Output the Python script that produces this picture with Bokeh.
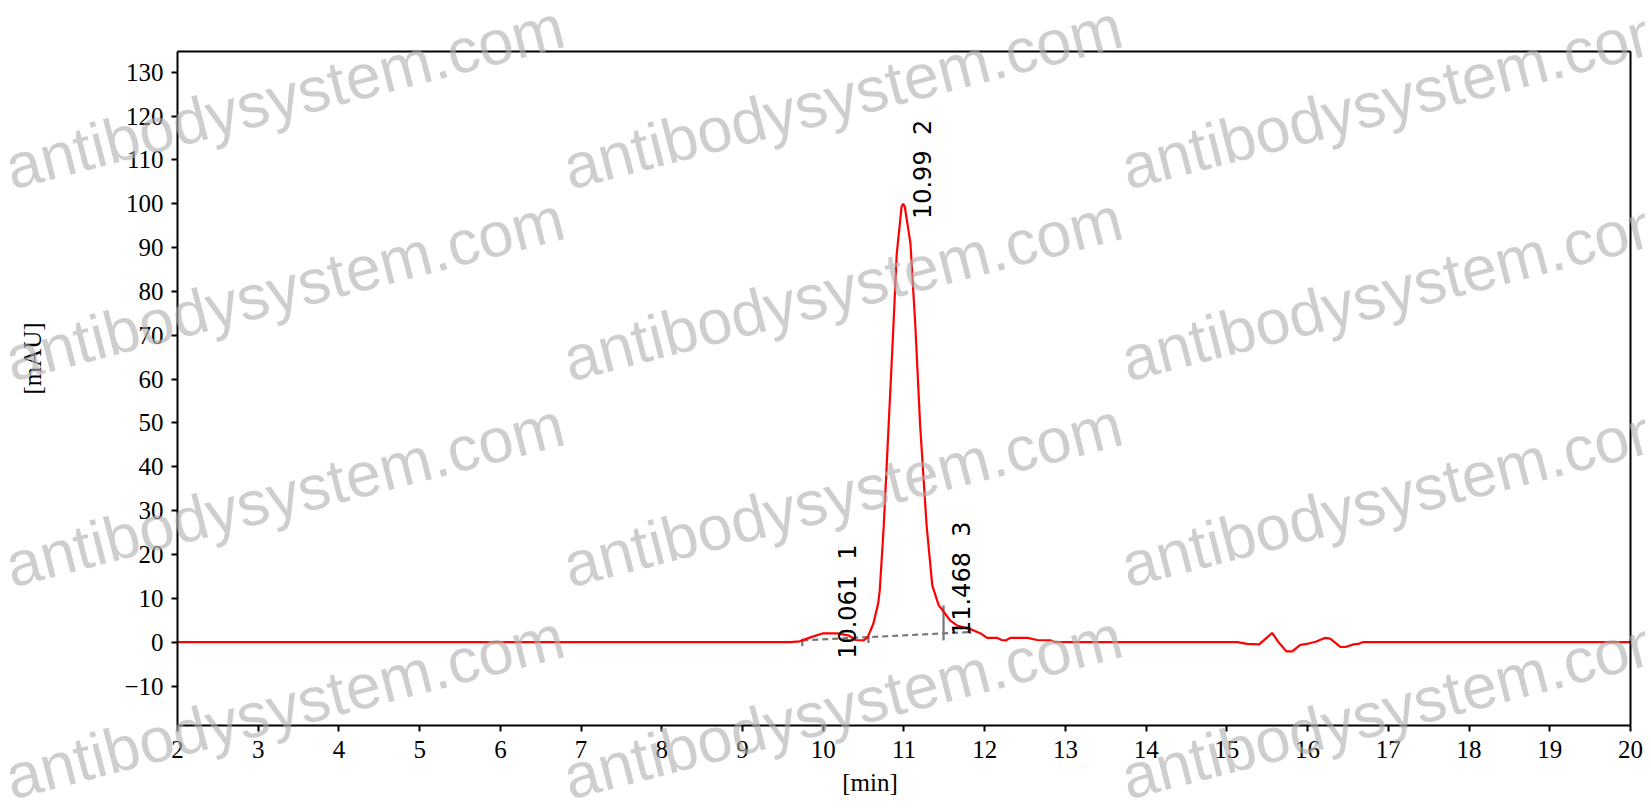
import math
from bokeh.plotting import figure
from bokeh.models import Label, Range1d, FixedTicker, LinearAxis
from bokeh.core.properties import value
from bokeh.embed import file_html
from bokeh.resources import INLINE

# ---- data ----
time_min = [2.0, 9.59, 9.71, 9.84, 9.99, 10.17, 10.32, 10.40, 10.50, 10.55, 10.62, 10.68,
            10.70, 10.75, 10.81, 10.87, 10.91, 10.97, 10.99, 11.01, 11.08, 11.14, 11.20,
            11.28, 11.35, 11.43, 11.47, 11.57, 11.66, 11.82, 11.95, 12.03, 12.15, 12.21,
            12.26, 12.32, 12.53, 12.65, 12.82, 12.88, 15.13, 15.25, 15.40, 15.56, 15.64,
            15.74, 15.81, 15.91, 15.99, 16.10, 16.22, 16.28, 16.41, 16.47, 16.57, 16.63,
            16.68, 20.0]
signal_mau = [0.0, 0.0, 0.2, 1.1, 2.0, 2.0, 1.5, 0.5, 0.4, 1.1, 4.2, 8.8,
              11.8, 26.7, 49.5, 72.4, 88.5, 99.3, 100.0, 99.3, 91.0, 72.4, 49.5,
              26.7, 13.0, 8.4, 7.5, 5.0, 3.8, 3.0, 2.0, 1.0, 1.0, 0.5,
              0.4, 1.0, 1.0, 0.5, 0.4, 0.0, 0.0, -0.4, -0.5, 2.1, 0.0,
              -2.1, -2.1, -0.6, -0.4, 0.1, 1.0, 0.8, -1.1, -1.1, -0.5, -0.4,
              0.0, 0.0]

baseline_x = [9.74, 11.82]
baseline_y = [0.4, 2.3]
marker_x = [9.74, 10.56, 11.49, 11.82]
marker_lo = [-0.9, -0.2, 0.4, 1.9]
marker_hi = [0.8, 1.3, 8.4, 3.4]

peak_rt = [10.061, 10.99, 11.468]
peak_no = ["1", "2", "3"]
label_y = [-3.8, 96.5, 1.4]
peak_text = [f"{rt:g}\u00a0\u00a0{n}" for rt, n in zip(peak_rt, peak_no)]

x_ticks = list(range(2, 21))
y_ticks = list(range(-10, 131, 10))
x_lim = (2.0, 20.0)
y_lim = (-19.0, 134.64)
x_title, y_title = "[min]", "[mAU]"
x_title_span = (2.0, 19.16)     # the titles sit a little off the axis centres
y_title_span = (-5.2, 134.64)

watermark = "antibodysystem.com"
wm_x = [6, 564, 1122]          # page px of text start
wm_y = [168, 360, 566, 778]    # page px of baseline

# ---- figure (the frame fills the canvas; axes sit at fixed locations) ----
W, H = 1645, 805
PX_X = 80.72      # px per minute
PX_Y = 4.385      # px per mAU
LEFT_PX, ZERO_PX = 177, 641.7
x_range = Range1d(x_lim[0] - LEFT_PX / PX_X, x_lim[0] + (W - LEFT_PX) / PX_X)
y_range = Range1d(-(H - ZERO_PX) / PX_Y, ZERO_PX / PX_Y)

p = figure(width=W, height=H, output_backend="svg", toolbar_location=None,
           x_range=x_range, y_range=y_range)
p.title.visible = False
p.min_border = 0
p.background_fill_color = "white"
p.border_fill_color = "white"
p.outline_line_color = None
p.xgrid.visible = False
p.ygrid.visible = False

serif = "Liberation Serif"
xa, ya = p.xaxis[0], p.yaxis[0]
xa.fixed_location = y_lim[0]
ya.fixed_location = x_lim[0]
xa.bounds = x_lim
ya.bounds = y_lim
for ax in (xa, ya):
    ax.axis_line_color = "black"
    ax.axis_line_width = 2
    ax.major_tick_line_color = "black"
    ax.major_tick_line_width = 2
    ax.major_tick_in = 0
    ax.major_tick_out = 6
    ax.minor_tick_line_color = None
    ax.major_label_text_font = serif
    ax.major_label_text_font_size = "25px"
    ax.major_label_text_color = "black"
xa.ticker = FixedTicker(ticks=x_ticks)
ya.ticker = FixedTicker(ticks=y_ticks)
xa.major_label_standoff = 9
ya.major_label_standoff = 8


def bare_axis(loc, bounds, **kw):
    return LinearAxis(fixed_location=loc, bounds=bounds, ticker=FixedTicker(ticks=[]),
                      major_tick_line_color=None, minor_tick_line_color=None,
                      major_tick_out=0, major_label_standoff=0,
                      major_label_text_font_size="0px", **kw)


# right and top sides of the frame
p.add_layout(bare_axis(x_lim[1], y_lim, axis_line_color="black", axis_line_width=2), "right")
p.add_layout(bare_axis(y_lim[1], x_lim, axis_line_color="black", axis_line_width=2), "above")

# axis titles
title_style = dict(axis_line_color=None, axis_label_text_font=serif,
                   axis_label_text_font_size="25px", axis_label_text_font_style="normal",
                   axis_label_text_color="black")
p.add_layout(bare_axis(y_lim[0], x_title_span, axis_label=x_title,
                       axis_label_standoff=43, **title_style), "below")
p.add_layout(bare_axis(x_lim[0], y_title_span, axis_label=y_title,
                       axis_label_standoff=132, **title_style), "left")

# baseline (dashed) and peak markers
p.line(baseline_x, baseline_y, line_color="#777777", line_width=2.2, line_dash="6 4")
p.segment(x0=marker_x, y0=marker_lo, x1=marker_x, y1=marker_hi,
          line_color="#777777", line_width=2.2)

# trace
p.line(time_min, signal_mau, line_color="#ff0000", line_width=2.2)

# peak labels
p.text(x=peak_rt, y=label_y, text=peak_text, angle=math.pi / 2,
       x_offset=20, text_align="left", text_baseline="middle",
       text_font=value("DejaVu Sans"), text_font_size="24px", text_color="black")

# watermark
for yy in wm_y:
    for xx in wm_x:
        p.add_layout(Label(x=xx, y=H - yy, x_units="screen", y_units="screen",
                           text=watermark, angle=14.5, angle_units="deg",
                           text_font="Liberation Sans", text_font_size="63px",
                           text_color="#b0b0b0", text_alpha=0.62,
                           text_baseline="alphabetic", text_align="left"))

open("out.html", "w").write(file_html(p, INLINE))
